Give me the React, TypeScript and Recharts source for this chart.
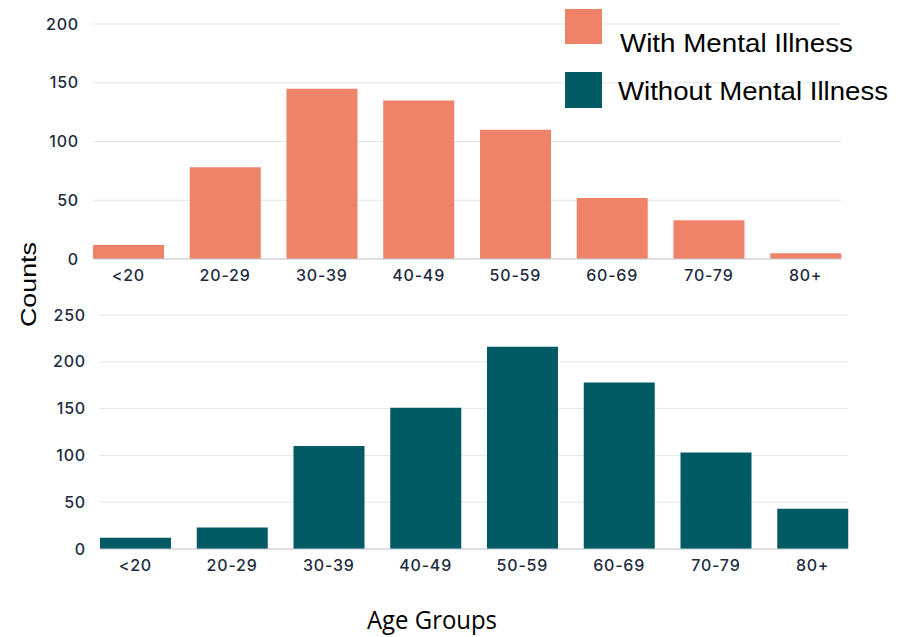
import React from "react"
import { BarChart, Bar, XAxis, YAxis, CartesianGrid, Legend } from "recharts"

// age buckets shared by both panels
const ageGroups = ["<20", "20-29", "30-39", "40-49", "50-59", "60-69", "70-79", "80+"]
const withIllness = [12, 78, 145, 135, 110, 52, 33, 5]
const withoutIllness = [12, 23, 110, 151, 216, 178, 103, 43]
const topTicks = [0, 50, 100, 150, 200]
const bottomTicks = [0, 50, 100, 150, 200, 250]
const legendItems = [
  { label: "With Mental Illness", color: "#EE836A" },
  { label: "Without Mental Illness", color: "#025A64" },
]

const topData = ageGroups.map((g, i) => ({ group: g, count: withIllness[i] }))
const bottomData = ageGroups.map((g, i) => ({ group: g, count: withoutIllness[i] }))

const tickStyle = { fill: "#1d2b3f", fontSize: 16, fontWeight: 500, fontFamily: "Inter, sans-serif", letterSpacing: 0.8 }
const gridColor = "#e3e5e9"
const axisColor = "#c8cdd4"

function LegendBox() {
  return (
    <svg width={340} height={115}>
      <rect x={5} y={9} width={37} height={35} fill={legendItems[0].color} />
      <text x={60} y={52} fontSize={26} fontFamily="'Liberation Sans', Arial, sans-serif" fill="#000" textLength={233} lengthAdjust="spacingAndGlyphs">
        {legendItems[0].label}
      </text>
      <rect x={5} y={72} width={37} height={36} fill={legendItems[1].color} />
      <text x={58} y={100} fontSize={26} fontFamily="'Liberation Sans', Arial, sans-serif" fill="#000" textLength={270} lengthAdjust="spacingAndGlyphs">
        {legendItems[1].label}
      </text>
    </svg>
  )
}

export default function App() {
  return (
    <div style={{ position: "absolute", left: 0, top: 0, width: 902, height: 637, background: "#fff", overflow: "hidden" }}>
      <div style={{ position: "absolute", left: 0, top: 0 }}>
        <BarChart width={902} height={300} data={topData} margin={{ top: 24, right: 61, left: 53, bottom: 11 }} barCategoryGap={13}>
          <CartesianGrid vertical={false} stroke={gridColor} />
          <XAxis
            dataKey="group"
            interval={0}
            tickSize={0}
            tickMargin={11}
            height={30}
            tick={tickStyle}
            stroke={axisColor}
            padding={{ left: -13, right: -13 }}
          />
          <YAxis
            domain={[0, 200]}
            ticks={topTicks}
            width={40}
            axisLine={false}
            tickLine={false}
            tickSize={0}
            tickMargin={14}
            tick={tickStyle}
          />
          <Legend
            layout="vertical"
            align="center"
            verticalAlign="middle"
            wrapperStyle={{ top: 0, left: 560, width: 340, height: 115 }}
            content={() => <LegendBox />}
          />
          <Bar dataKey="count" name="With Mental Illness" fill={legendItems[0].color} isAnimationActive={false} />
        </BarChart>
      </div>

      <div style={{ position: "absolute", left: 0, top: 290 }}>
        <BarChart width={902} height={310} data={bottomData} margin={{ top: 25, right: 54, left: 60, bottom: 21 }} barCategoryGap={13}>
          <CartesianGrid vertical={false} stroke={gridColor} />
          <XAxis
            dataKey="group"
            interval={0}
            tickSize={0}
            tickMargin={11}
            height={30}
            tick={tickStyle}
            stroke={axisColor}
            padding={{ left: -13, right: -13 }}
          />
          <YAxis
            domain={[0, 250]}
            ticks={bottomTicks}
            width={40}
            axisLine={false}
            tickLine={false}
            tickSize={0}
            tickMargin={14}
            tick={tickStyle}
          />
          <Bar dataKey="count" name="Without Mental Illness" fill={legendItems[1].color} isAnimationActive={false} />
        </BarChart>
      </div>

      {/* axis titles shared by both panels */}
      <svg width={902} height={637} style={{ position: "absolute", left: 0, top: 0, pointerEvents: "none" }}>
        <text
          x={36}
          y={284.5}
          fontSize={22}
          fontFamily="'Liberation Sans', Arial, sans-serif"
          textAnchor="middle"
          textLength={85}
          lengthAdjust="spacingAndGlyphs"
          transform="rotate(-90, 36, 284.5)"
        >
          Counts
        </text>
        <text x={432} y={629} fontSize={25} fontFamily="'Open Sans', sans-serif" textAnchor="middle" textLength={130} lengthAdjust="spacingAndGlyphs">
          Age Groups
        </text>
      </svg>
    </div>
  )
}
